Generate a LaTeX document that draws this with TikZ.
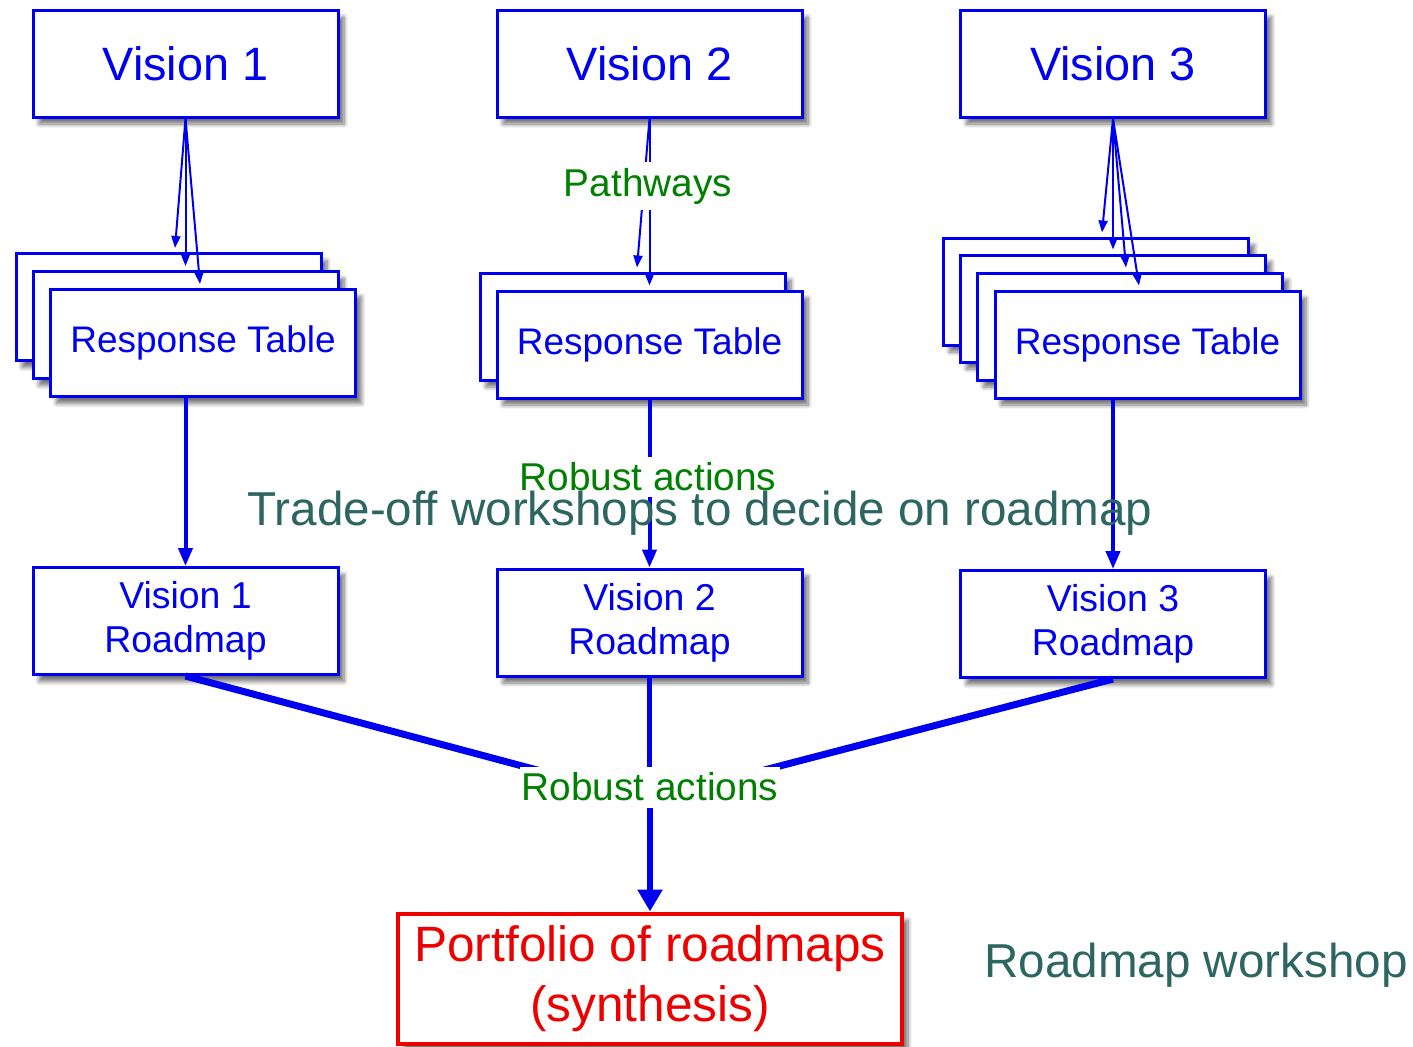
\documentclass[tikz,border=0pt]{standalone}
\usepackage{fontspec}
\setmainfont{Liberation Sans}
\usetikzlibrary{arrows.meta,shadows.blur}
\definecolor{vblue}{RGB}{0,0,240}
\definecolor{lgreen}{RGB}{0,128,0}
\definecolor{wsteal}{RGB}{45,102,96}
\definecolor{pfred}{RGB}{236,0,0}
\tikzset{
  softshadow/.style={blur shadow={shadow xshift=3pt, shadow yshift=-3.5pt, shadow blur steps=8, shadow opacity=55}},
  box/.style={draw=vblue, line width=1.5pt, fill=white, inner sep=0pt, text=vblue,
    minimum width=152.5pt, minimum height=53.5pt, softshadow},
  vbox/.style={box, font=\fontsize{23.4}{28}\selectfont},
  rtbox/.style={box, font=\fontsize{18.5}{22}\selectfont},
  rmbox/.style={box, align=center, font=\fontsize{18.7}{22}\selectfont},
  pfbox/.style={draw=pfred, line width=2pt, fill=white, inner sep=0pt, text=pfred, align=center,
    minimum width=252pt, minimum height=65pt, font=\fontsize{24.8}{30}\selectfont, softshadow},
  lab/.style={fill=white, text=lgreen, inner xsep=1pt, inner ysep=3pt, font=\fontsize{19.4}{22}\selectfont},
  wtext/.style={text=wsteal, inner sep=0pt, font=\fontsize{23.8}{28}\selectfont},
  tarr/.style={draw=vblue, line width=1pt, -{Triangle[length=6pt,width=4.5pt]}},
  karr/.style={draw=vblue, line width=2pt, -{Triangle[length=9pt,width=7pt]}},
  conv/.style={draw=vblue, line width=3.5pt},
  parr/.style={draw=vblue, line width=3pt, -{Triangle[length=11pt,width=12pt]}},
}
\begin{document}
\begin{tikzpicture}[x=0.5pt,y=-0.5pt]
\useasboundingbox (0,0) rectangle (1413,1046);

% vision boxes
\node[vbox] (v1) at (185.5,63.5) {Vision 1};
\node[vbox] (v2) at (649.5,63.5) {Vision 2};
\node[vbox] (v3) at (1113,63.5) {Vision 3};

% stacked response tables
\node[rtbox] (rt1a) at (168.5,307) {};
\node[rtbox] (rt1b) at (185.5,325) {};
\node[rtbox] (rt1c) at (203,343) {Response Table};

\node[rtbox] (rt2a) at (632.5,326.5) {};
\node[rtbox] (rt2b) at (649.5,344.5) {Response Table};

\node[rtbox] (rt3a) at (1096,291.5) {};
\node[rtbox] (rt3b) at (1113,308.5) {};
\node[rtbox] (rt3c) at (1130,326.5) {};
\node[rtbox] (rt3d) at (1147.5,344.5) {Response Table};

% roadmaps
\node[rmbox] (rm1) at (185.5,621) {Vision 1\\Roadmap};
\node[rmbox] (rm2) at (649.5,622.5) {Vision 2\\Roadmap};
\node[rmbox] (rm3) at (1113,624) {Vision 3\\Roadmap};

% portfolio
\node[pfbox] (pf) at (650,978.5) {Portfolio of roadmaps\\(synthesis)};

% vision -> response tables
\draw[tarr] (v1.south) -- ([xshift=3.25pt,yshift=2pt]rt1a.north);
\draw[tarr] (v1.south) -- ([yshift=2pt]rt1b.north);
\draw[tarr] (v1.south) -- ([xshift=-1.5pt,yshift=2pt]rt1c.north);

\draw[tarr] (v2.south) -- ([xshift=2.25pt,yshift=2pt]rt2a.north);
\draw[tarr] (v2.south) -- ([yshift=2pt]rt2b.north);
\node[lab] (pw) at (648,186) {Pathways};

\draw[tarr] (v3.south) -- ([xshift=3pt,yshift=2pt]rt3a.north);
\draw[tarr] (v3.south) -- ([yshift=2pt]rt3b.north);
\draw[tarr] (v3.south) -- ([xshift=-2pt,yshift=2pt]rt3c.north);
\draw[tarr] (v3.south) -- ([xshift=-4.25pt,yshift=2pt]rt3d.north);

% response tables -> roadmaps
\draw[karr] (rt1c.south -| rm1.north) -- (rm1.north);
\draw[karr] (rt2b.south) -- (rm2.north);
\draw[karr] (rt3d.south -| rm3.north) -- (rm3.north);
\node[lab] (ra1) at (648,477) {Robust actions};

% roadmaps -> portfolio
\coordinate (hub) at (649.5,800);
\draw[conv] (rm1.south) -- (hub);
\draw[conv] (rm3.south) -- (hub);
\draw[conv, line width=2.5pt] (rm2.south) -- (hub);
\node[lab] (ra2) at (650,787) {Robust actions};
\draw[parr] (ra2.south) -- (pf.north);

% workshop captions
\node[wtext, anchor=base] (tw) at (700,525) {Trade-off workshops to decide on roadmap};
\node[wtext, anchor=base] (rw) at (1196,977) {Roadmap workshop};
\end{tikzpicture}
\end{document}
